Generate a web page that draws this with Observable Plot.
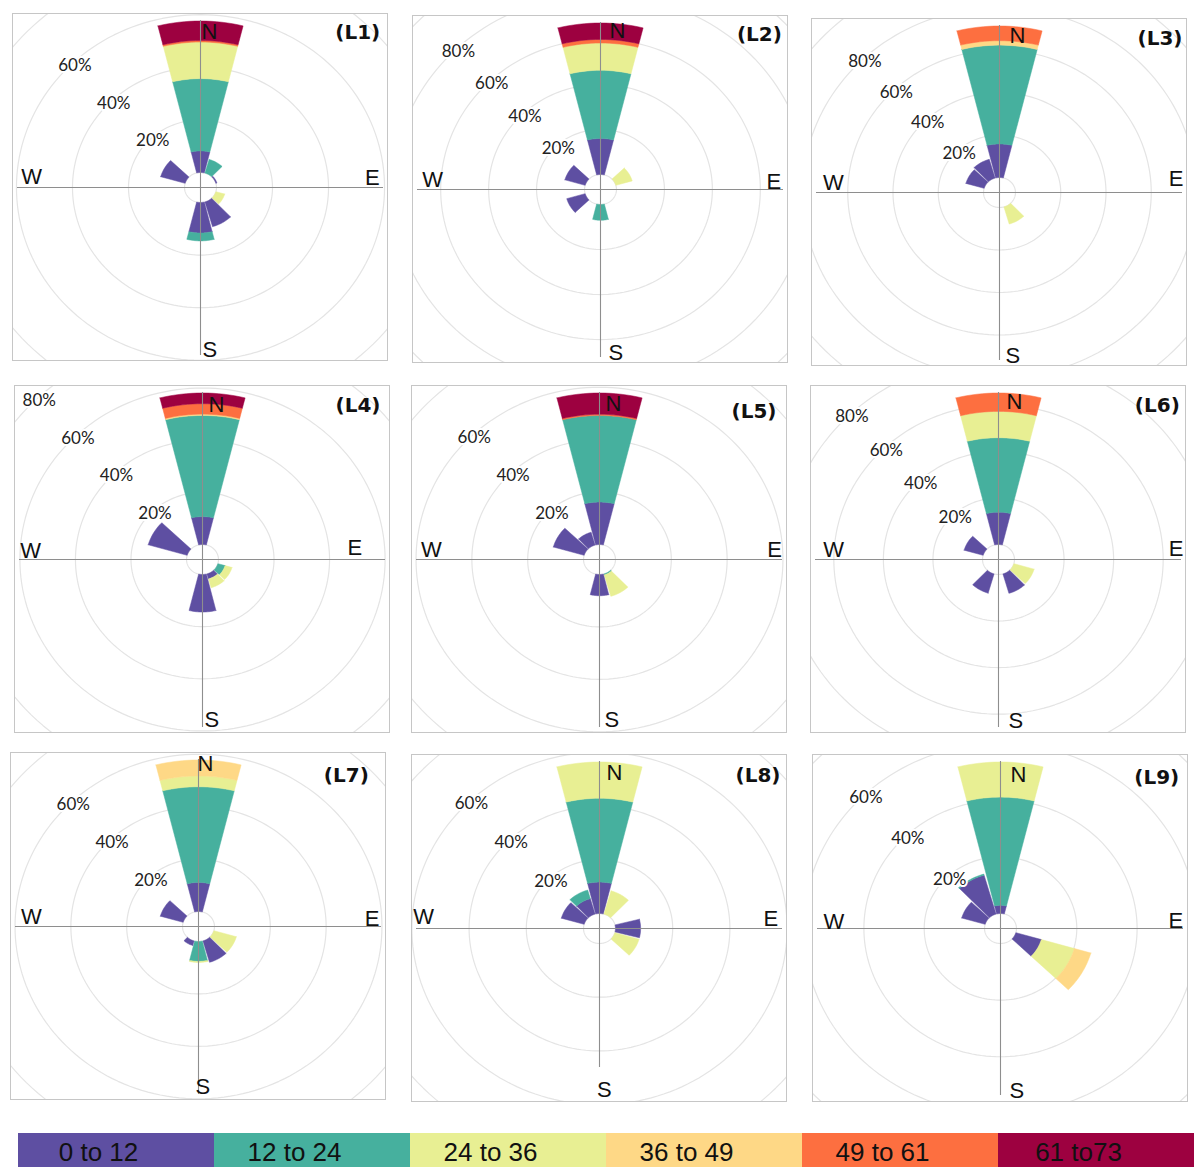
<!DOCTYPE html>
<html><head><meta charset="utf-8">
<script src="https://cdn.jsdelivr.net/npm/d3@7"></script>
<script src="https://cdn.jsdelivr.net/npm/@observablehq/plot@0.6"></script>
<style>
html,body{margin:0;padding:0;background:#fff;overflow:hidden;}
#root{position:relative;width:1195px;height:1167px;overflow:hidden;}
.panel{position:absolute;width:376px;height:348px;overflow:hidden;background:#fff;}
.panel svg{position:absolute;left:0;top:0;}
.panel .frame{position:absolute;left:0;top:0;width:376px;height:348px;border:1.5px solid #c6c6c6;box-sizing:border-box;pointer-events:none;}
#legend{position:absolute;left:17px;top:1133px;}
</style></head><body><div id="root"></div>
<script>
// ---- categories / legend ----
const bins = ["0 to 12", "12 to 24", "24 to 36", "36 to 49", "49 to 61", "61 to73"];
const binColors = ["#5e4fa2", "#46b09e", "#e8ef93", "#fed886", "#fd6f40", "#9d0140"];
const panelNames = ["(L1)", "(L2)", "(L3)", "(L4)", "(L5)", "(L6)", "(L7)", "(L8)", "(L9)"];
const cardinals = ["N", "E", "S", "W"];

// ---- frequencies (%) : [direction°, 0-12, 12-24, 24-36, 36-49, 49-61, 61-73] ----
const L1 = [[0, 8.2, 27.5, 13.9, 0, 0.6, 7.4], [30, 0, 5.4, 0, 0, 0, 0], [60, 0.4, 0, 0, 0, 0, 0],
            [120, 0, 0, 3.3, 0, 0, 0], [150, 9.8, 0, 0, 0, 0, 0], [180, 11.6, 3.0, 0, 0, 0, 0], [300, 9.1, 0, 0, 0, 0, 0]];
const L2 = [[0, 16.0, 30.3, 12.1, 0, 1.6, 7.3], [60, 0, 0, 7.1, 0, 0, 0], [180, 0, 7.0, 0, 0, 0, 0],
            [240, 8.0, 0, 0, 0, 0, 0], [300, 8.8, 0, 0, 0, 0, 0]];
const L3 = [[0, 15.8, 46.5, 0, 2.1, 6.9, 0], [150, 0, 0, 8.4, 0, 0, 0], [300, 8.4, 0, 0, 0, 0, 0],
            [330, 9.2, 0, 0, 0, 0, 0]];
const L4 = [[0, 10.7, 38.8, 0, 0.5, 4.0, 4.1], [120, 0, 2.7, 2.6, 0, 0, 0], [150, 2.0, 0, 3.5, 0, 0, 0],
            [180, 14.4, 0, 0, 0, 0, 0], [300, 14.6, 0, 0, 0, 0, 0]];
const L5 = [[0, 16.2, 33.0, 0, 0, 0.5, 8.1], [150, 0, 0.4, 8.5, 0, 0, 0], [180, 8.1, 0, 0, 0, 0, 0],
            [300, 11.5, 0, 0, 0, 0, 0], [330, 5.1, 0, 0, 0, 0, 0]];
const L6 = [[0, 13.9, 32.0, 11.3, 0, 7.9, 0], [120, 0, 0, 8.5, 0, 0, 0], [150, 8.7, 0, 0, 0, 0, 0],
            [210, 8.6, 0, 0, 0, 0, 0], [300, 8.0, 0, 0, 0, 0, 0]];
const L7 = [[0, 11.1, 36.5, 4.1, 6.1, 0, 0], [120, 0, 0, 8.4, 0, 0, 0], [150, 8.5, 0, 0, 0, 0, 0],
            [180, 0, 7.6, 0.4, 0, 0, 0], [210, 1.8, 0, 0, 0, 0, 0], [300, 8.5, 0, 0, 0, 0, 0]];
const L8 = [[0, 11.7, 31.2, 13.5, 0, 0, 0], [30, 0, 0, 9.0, 0, 0, 0], [90, 8.8, 0, 0, 0, 0, 0],
            [120, 0, 0, 8.8, 0, 0, 0], [300, 8.3, 0, 0, 0, 0, 0], [330, 6.0, 3.3, 0, 0, 0, 0]];
const L9 = [[0, 2.9, 38.2, 12.4, 0, 0, 0], [120, 8.8, 0, 11.4, 5.7, 0, 0], [300, 8.1, 0, 0, 0, 0, 0],
            [330, 14.3, 0.4, 0, 0, 0, 0]];
const panels = [L1, L2, L3, L4, L5, L6, L7, L8, L9];

// ---- ring ticks and labelled ticks ----
const ringTicks = [0, 20, 40, 60, 80, 100];
const ringLabels = [[20, 40, 60], [20, 40, 60, 80], [20, 40, 60, 80], [20, 40, 60, 80], [20, 40, 60],
                    [20, 40, 60, 80], [20, 40, 60], [20, 40, 60], [20, 40, 60]];

// ---- layout (positions / sizes, kept apart from data) ----
const W = 376, H = 348, SX = 1.065, R0 = 15, RTOP = 166.5, HW = 13.9;
const panelBoxes = [[12,13],[412,15],[811,18],[14,385],[411,385],[810,385],[10,752],[411,754],[812,754]];
const nPos = [[1,149],[9,151.6],[10,150],[6,148],[6,149],[8,151],[-1,156],[7,149],[10,146.7]];
const sPos = [[2,169],[8,170],[6,170],[2,167.4],[5,167.4],[10,168.7],[-3,167],[-2.6,168.5],[9,169]];
const wPos = [[-179.3,4],[-178.3,2.6],[-176.6,2.4],[-182.3,1.3],[-178.6,2.3],[-175.3,3],[-177.6,3],[-186.3,5],[-177,0]];
const ePos = [[179.3,3],[180.7,1],[184,6.7],[159.7,4.3],[182.4,2.3],[185,4],[181,1],[178.7,3],[182.7,1]];
const titlePos = [[8.3,11.7],[6.6,11.7],[5,12.6],[10,12],[11,18],[6.7,12],[17.7,15],[7,13.7],[9.3,15]];
const axisBottom = [168,168,168,168,168,168,168,139,167];

const rad = a => a * Math.PI / 180;
const root = document.getElementById("root");

panels.forEach((rows, i) => {
  const vmax = d3.max(rows, r => d3.sum(r.slice(1)));
  const rho = d3.scaleLinear([0, vmax], [R0, RTOP]);

  // stacked wedge polygons
  const segs = [];
  rows.forEach(([dir, ...vals]) => {
    let c = 0;
    vals.forEach((v, b) => { if (v > 0) segs.push({dir, bin: bins[b], v0: c, v1: c + v}); c += v; });
  });
  const wedgePts = [];
  segs.forEach((s, k) => {
    const n = 16, a0 = s.dir - HW, a1 = s.dir + HW, ro = rho(s.v1), ri = rho(s.v0);
    const poly = [];
    for (let j = 0; j <= n; j++) { const a = rad(a0 + (a1 - a0) * j / n); poly.push([ro * Math.sin(a), ro * Math.cos(a)]); }
    for (let j = n; j >= 0; j--) { const a = rad(a0 + (a1 - a0) * j / n); poly.push([ri * Math.sin(a), ri * Math.cos(a)]); }
    poly.push(poly[0]);
    poly.forEach(([x, y]) => wedgePts.push({id: k, bin: s.bin, x, y}));
  });

  // grid rings
  const ringPts = [];
  ringTicks.forEach(t => {
    for (let j = 0; j <= 180; j++) { const a = rad(j * 2); ringPts.push({t, x: rho(t) * Math.sin(a), y: rho(t) * Math.cos(a)}); }
  });
  const labelData = ringLabels[i].map(t => {
    const r = rho(t) - 3, a = rad(316);
    return {text: t + "%", x: r * Math.sin(a), y: r * Math.cos(a)};
  });

  const startTexts = [
    {text: cardinals[0], x: nPos[i][0] / SX, y: nPos[i][1]},
    {text: cardinals[2], x: sPos[i][0] / SX, y: -sPos[i][1]},
    {text: cardinals[3], x: wPos[i][0] / SX, y: wPos[i][1]}
  ];
  const endTexts = [{text: cardinals[1], x: ePos[i][0] / SX, y: ePos[i][1]}];

  const chart = Plot.plot({
    width: W, height: H, margin: 0,
    x: {domain: [-W / 2 / SX, W / 2 / SX], axis: null},
    y: {domain: [-H / 2, H / 2], axis: null},
    color: {domain: bins, range: binColors},
    style: {background: "white"},
    marks: [
      Plot.line(ringPts, {x: "x", y: "y", z: "t", stroke: "#e4e4e4", strokeWidth: 1.2}),
      Plot.line(wedgePts, {x: "x", y: "y", z: "id", fill: "bin", stroke: "bin", strokeWidth: 0.5}),
      Plot.ruleY([0], {x1: () => -183 / SX, x2: () => 183 / SX, stroke: "#8e8e8e", strokeWidth: 1.1}),
      Plot.ruleX([0], {y1: () => -axisBottom[i], y2: () => 167, stroke: "#8e8e8e", strokeWidth: 1.1}),
      Plot.text(labelData, {x: "x", y: "y", text: "text", fontSize: 17, fontFamily: "Lato", fill: "#222",
        stroke: "white", strokeWidth: 4, textAnchor: "middle", lineAnchor: "middle"}),
      Plot.text(startTexts, {x: "x", y: "y", text: "text", fontSize: 22, fontFamily: "Liberation Sans",
        fill: "#111", textAnchor: "start", lineAnchor: "bottom"}),
      Plot.text(endTexts, {x: "x", y: "y", text: "text", fontSize: 22, fontFamily: "Liberation Sans",
        fill: "#111", textAnchor: "end", lineAnchor: "bottom"}),
      Plot.text([panelNames[i]], {frameAnchor: "top-right", text: d => d, dx: -titlePos[i][0], dy: titlePos[i][1],
        fontSize: 20, fontWeight: "bold", fontFamily: "DejaVu Sans", fill: "#111", textAnchor: "end", lineAnchor: "top"})
    ]
  });
  const div = document.createElement("div");
  div.className = "panel";
  div.style.left = panelBoxes[i][0] + "px";
  div.style.top = panelBoxes[i][1] + "px";
  div.appendChild(chart);
  const frame = document.createElement("div");
  frame.className = "frame";
  div.appendChild(frame);
  root.appendChild(div);
});

// ---- legend ----
const legend = Plot.plot({
  width: 1178, height: 34, margin: 0,
  x: {type: "band", domain: bins, padding: 0, axis: null},
  color: {domain: bins, range: binColors},
  marks: [
    Plot.cell(bins, {x: d => d, fill: d => d}),
    Plot.text(bins, {x: d => d, text: d => d, dx: -18, dy: 2, fontSize: 26, fontFamily: "Liberation Sans", fill: "#111"})
  ]
});
const lg = document.createElement("div");
lg.id = "legend";
lg.appendChild(legend);
root.appendChild(lg);
</script></body></html>
